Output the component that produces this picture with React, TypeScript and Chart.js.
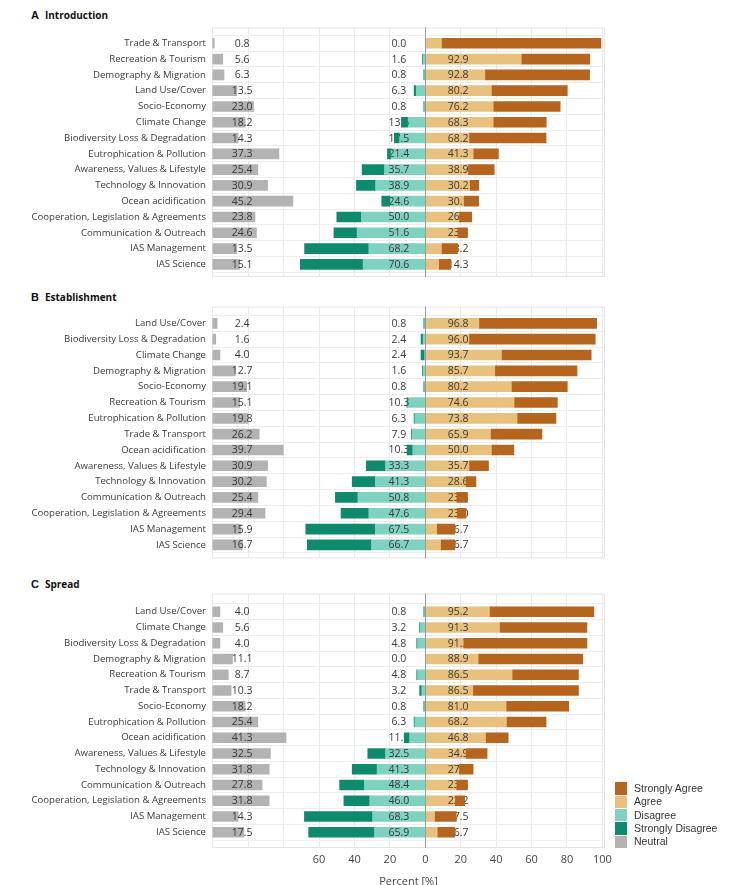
import React, { useEffect, useRef } from 'react';
import { Chart, registerables } from 'chart.js';

Chart.register(...registerables);

// ---------- DATA ----------
const categoriesA = [
  'Trade & Transport', 'Recreation & Tourism', 'Demography & Migration', 'Land Use/Cover',
  'Socio-Economy', 'Climate Change', 'Biodiversity Loss & Degradation', 'Eutrophication & Pollution',
  'Awareness, Values & Lifestyle', 'Technology & Innovation', 'Ocean acidification',
  'Cooperation, Legislation & Agreements', 'Communication & Outreach', 'IAS Management', 'IAS Science',
];
const neutralA = [0.8, 5.6, 6.3, 13.5, 23.0, 18.2, 14.3, 37.3, 25.4, 30.9, 45.2, 23.8, 24.6, 13.5, 15.1];
const disagreeTotalA = [0.0, 1.6, 0.8, 6.3, 0.8, 13.5, 17.5, 21.4, 35.7, 38.9, 24.6, 50.0, 51.6, 68.2, 70.6];
const stronglyDisagreeA = [0, 0, 0, 0.8, 0, 3.4, 2.6, 1.7, 12.2, 10.4, 4.5, 13.5, 12.7, 35.9, 35.1];
const agreeTotalA = [99.2, 92.9, 92.8, 80.2, 76.2, 68.3, 68.2, 41.3, 38.9, 30.2, 30.1, 26.2, 23.8, 18.2, 14.3];
const stronglyAgreeA = [89.7, 38.3, 58.8, 42.5, 37.5, 29.6, 43.2, 13.9, 14.5, 4.8, 8.1, 6.9, 5.4, 8.7, 6.4];

const categoriesB = [
  'Land Use/Cover', 'Biodiversity Loss & Degradation', 'Climate Change', 'Demography & Migration',
  'Socio-Economy', 'Recreation & Tourism', 'Eutrophication & Pollution', 'Trade & Transport',
  'Ocean acidification', 'Awareness, Values & Lifestyle', 'Technology & Innovation',
  'Communication & Outreach', 'Cooperation, Legislation & Agreements', 'IAS Management', 'IAS Science',
];
const neutralB = [2.4, 1.6, 4.0, 12.7, 19.1, 15.1, 19.8, 26.2, 39.7, 30.9, 30.2, 25.4, 29.4, 15.9, 16.7];
const disagreeTotalB = [0.8, 2.4, 2.4, 1.6, 0.8, 10.3, 6.3, 7.9, 10.3, 33.3, 41.3, 50.8, 47.6, 67.5, 66.7];
const stronglyDisagreeB = [0, 0.8, 1.6, 0, 0, 0, 0, 0, 2.8, 10.4, 12.7, 12.3, 15.3, 38.9, 35.9];
const agreeTotalB = [96.8, 96.0, 93.7, 85.7, 80.2, 74.6, 73.8, 65.9, 50.0, 35.7, 28.6, 23.8, 23.0, 16.7, 16.7];
const stronglyAgreeB = [66.2, 71.0, 50.3, 46.1, 31.2, 24.1, 21.6, 28.7, 12.3, 10.7, 5.5, 6.0, 5.0, 9.9, 7.7];

const categoriesC = [
  'Land Use/Cover', 'Climate Change', 'Biodiversity Loss & Degradation', 'Demography & Migration',
  'Recreation & Tourism', 'Trade & Transport', 'Socio-Economy', 'Eutrophication & Pollution',
  'Ocean acidification', 'Awareness, Values & Lifestyle', 'Technology & Innovation',
  'Communication & Outreach', 'Cooperation, Legislation & Agreements', 'IAS Management', 'IAS Science',
];
const neutralC = [4.0, 5.6, 4.0, 11.1, 8.7, 10.3, 18.2, 25.4, 41.3, 32.5, 31.8, 27.8, 31.8, 14.3, 17.5];
const disagreeTotalC = [0.8, 3.2, 4.8, 0.0, 4.8, 3.2, 0.8, 6.3, 11.9, 32.5, 41.3, 48.4, 46.0, 68.3, 65.9];
const stronglyDisagreeC = [0, 0, 0, 0, 0, 0.8, 0, 0, 2.6, 9.6, 13.7, 13.6, 14.2, 38.1, 36.8];
const agreeTotalC = [95.2, 91.3, 91.3, 88.9, 86.5, 86.5, 81.0, 68.2, 46.8, 34.9, 27.0, 23.8, 22.2, 17.5, 16.7];
const stronglyAgreeC = [58.6, 49.0, 69.5, 58.7, 37.1, 59.3, 35.0, 22.0, 12.4, 11.8, 7.7, 6.0, 5.2, 11.9, 9.6];

const xTickValues = [-120, -100, -80, -60, -40, -20, 0, 20, 40, 60, 80, 100];
const xLabeledTicks = [-60, -40, -20, 0, 20, 40, 60, 80, 100];
const legendLabels = ['Strongly Agree', 'Agree', 'Disagree', 'Strongly Disagree', 'Neutral'];

// ---------- STYLE ----------
const COL = {
  sa: '#b5651e',
  a: '#e8c17e',
  d: '#7fd2bf',
  sd: '#0e8a6e',
  n: '#b3b3b3',
};
const legendColors = [COL.sa, COL.a, COL.d, COL.sd, COL.n];
const X_MIN = -120.5;
const X_MAX = 101.5;
const NEUTRAL_BASE = -120;
const TEXT_X = { neutral: -103.5, disagree: -15, agree: 18.5 };
const FONT = '"Open Sans", "DejaVu Sans", sans-serif';
const PLOT_LEFT = 212;
const CANVAS_W = 620;
const PAD_RIGHT = 15;

type PanelProps = {
  cats: string[];
  neutral: number[];
  disTotal: number[];
  strDis: number[];
  agrTotal: number[];
  strAgr: number[];
  plotTop: number;
  plotBottom: number;
  yMin: number;
  yMax: number;
  showAxis: boolean;
};

function Panel(p: PanelProps) {
  const ref = useRef<HTMLCanvasElement | null>(null);
  const canvasTop = Math.round(p.plotTop) - 3;
  const padTop = p.plotTop - canvasTop;
  const axisH = p.showAxis ? 895 - p.plotBottom : 0;
  const canvasH = Math.ceil(p.plotBottom - canvasTop + axisH + (p.showAxis ? 0 : 3));
  const padBottom = canvasH - (p.plotBottom - canvasTop) - axisH;

  useEffect(() => {
    if (!ref.current) return;
    const idx = p.cats.map((_, i) => i);
    const mk = (f: (i: number) => [number, number]) => idx.map((i) => ({ x: f(i), y: i }));

    const textLayers: Record<string, { vals: number[]; x: number }> = {
      Neutral: { vals: p.neutral, x: TEXT_X.neutral },
      Disagree: { vals: p.disTotal, x: TEXT_X.disagree },
      Agree: { vals: p.agrTotal, x: TEXT_X.agree },
    };

    const deco = {
      id: 'deco',
      beforeDatasetsDraw(chart: any) {
        const { ctx, chartArea: a } = chart;
        ctx.save();
        ctx.strokeStyle = '#e4e4e4';
        ctx.lineWidth = 1;
        ctx.strokeRect(a.left + 0.5, a.top + 0.5, a.right - a.left - 1, a.bottom - a.top - 1);
        ctx.restore();
      },
      afterDatasetDraw(chart: any, args: any) {
        const ds = chart.data.datasets[args.index];
        const layer = textLayers[ds.label];
        if (!layer) return;
        const { ctx } = chart;
        const xs = chart.scales.x;
        const ys = chart.scales.y;
        ctx.save();
        ctx.font = `10.5px ${FONT}`;
        ctx.fillStyle = '#3a3a3a';
        ctx.textAlign = 'center';
        ctx.textBaseline = 'middle';
        layer.vals.forEach((v, i) => {
          ctx.fillText(v.toFixed(1), xs.getPixelForValue(layer.x), ys.getPixelForValue(i) + 0.5);
        });
        ctx.restore();
      },
      afterDatasetsDraw(chart: any) {
        const { ctx, chartArea: a } = chart;
        const x0 = Math.round(chart.scales.x.getPixelForValue(0)) + 0.5;
        ctx.save();
        ctx.strokeStyle = '#9a9a9a';
        ctx.lineWidth = 1;
        ctx.beginPath();
        ctx.moveTo(x0, a.top);
        ctx.lineTo(x0, a.bottom);
        ctx.stroke();
        ctx.restore();
      },
    };

    const common = { barThickness: 10, grouped: false, borderWidth: 0, borderSkipped: false };
    const chart = new Chart(ref.current, {
      type: 'bar',
      data: {
        datasets: [
          { ...common, label: 'Neutral', order: 5, backgroundColor: COL.n,
            data: mk((i) => [NEUTRAL_BASE, NEUTRAL_BASE + p.neutral[i]]) },
          { ...common, label: 'Disagree', order: 4, backgroundColor: COL.d,
            data: mk((i) => [-(p.disTotal[i] - p.strDis[i]), 0]) },
          { ...common, label: 'Agree', order: 3, backgroundColor: COL.a,
            data: mk((i) => [0, p.agrTotal[i] - p.strAgr[i]]) },
          { ...common, label: 'Strongly Disagree', order: 2, backgroundColor: COL.sd,
            data: mk((i) => [-p.disTotal[i], -(p.disTotal[i] - p.strDis[i])]) },
          { ...common, label: 'Strongly Agree', order: 1, backgroundColor: COL.sa,
            data: mk((i) => [p.agrTotal[i] - p.strAgr[i], p.agrTotal[i]]) },
        ] as any,
      },
      options: {
        indexAxis: 'y',
        responsive: false,
        animation: false,
        devicePixelRatio: 1,
        layout: { padding: { left: 0, right: PAD_RIGHT, top: padTop, bottom: padBottom } },
        plugins: { legend: { display: false }, tooltip: { enabled: false } },
        scales: {
          x: {
            type: 'linear',
            min: X_MIN,
            max: X_MAX,
            offset: false,
            bounds: 'data',
            afterBuildTicks: (s: any) => { s.ticks = xTickValues.map((v) => ({ value: v })); },
            afterFit: (s: any) => {
              s.height = axisH;
              s.paddingLeft = 0; s.paddingRight = 0; s.paddingTop = 0; s.paddingBottom = 0;
            },
            grid: { color: '#e9e9e9', drawTicks: false, lineWidth: 1 },
            border: { display: false },
            ticks: {
              display: p.showAxis,
              padding: 5,
              color: '#444',
              font: { family: FONT, size: 11 },
              autoSkip: false,
              maxRotation: 0,
              callback: (v: any) => (xLabeledTicks.includes(Number(v)) ? String(Math.abs(Number(v))) : ''),
            },
            title: {
              display: p.showAxis,
              text: 'Percent [%]',
              color: '#444',
              font: { family: FONT, size: 11 },
              padding: { top: 0, bottom: 6.7 },
            },
          },
          y: {
            type: 'linear',
            reverse: true,
            min: p.yMin,
            max: p.yMax,
            offset: false,
            bounds: 'data',
            grace: 0,
            afterDataLimits: (s: any) => { s.min = p.yMin; s.max = p.yMax; },
            afterBuildTicks: (s: any) => {
              s.ticks = idx.map((v) => ({ value: v }));
              s.min = p.yMin; s.max = p.yMax;
            },
            afterFit: (s: any) => {
              s.width = PLOT_LEFT;
              s.paddingLeft = 0; s.paddingRight = 0; s.paddingTop = 0; s.paddingBottom = 0;
            },
            grid: { color: '#ededed', drawTicks: false, offset: true },
            border: { display: false },
            ticks: {
              padding: 6,
              color: '#3a3a3a',
              font: { family: FONT, size: 9.6 },
              autoSkip: false,
              callback: (v: any) => p.cats[Number(v)] ?? '',
            },
          },
        },
      } as any,
      plugins: [deco],
    });
    return () => chart.destroy();
  }, []);

  return (
    <canvas
      ref={ref}
      width={CANVAS_W}
      height={canvasH}
      style={{ position: 'absolute', left: 0, top: canvasTop, width: CANVAS_W, height: canvasH }}
    />
  );
}

function PanelTitle({ letter, text, top }: { letter: string; text: string; top: number }) {
  return (
    <div style={{ position: 'absolute', left: 31, top, height: 16, lineHeight: '16px', whiteSpace: 'nowrap', color: '#111' }}>
      <span style={{ fontFamily: '"Liberation Sans", Arial, sans-serif', fontWeight: 700, fontSize: 11 }}>{letter}</span>
      <span style={{ fontFamily: FONT, fontWeight: 700, fontSize: 10, marginLeft: 6 }}>{text}</span>
    </div>
  );
}

export default function App() {
  return (
    <div style={{ position: 'absolute', left: 0, top: 0, width: 752, height: 885, overflow: 'hidden', background: '#fff' }}>
      <PanelTitle letter="A" text="Introduction" top={5.5} />
      <PanelTitle letter="B" text="Establishment" top={287.5} />
      <PanelTitle letter="C" text="Spread" top={575} />
      <Panel cats={categoriesA} neutral={neutralA} disTotal={disagreeTotalA} strDis={stronglyDisagreeA}
        agrTotal={agreeTotalA} strAgr={stronglyAgreeA} plotTop={27.5} plotBottom={277} yMin={-1.0} yMax={14.8} showAxis={false} />
      <Panel cats={categoriesB} neutral={neutralB} disTotal={disagreeTotalB} strDis={stronglyDisagreeB}
        agrTotal={agreeTotalB} strAgr={stronglyAgreeB} plotTop={306.7} plotBottom={558.4} yMin={-1.05} yMax={14.85} showAxis={false} />
      <Panel cats={categoriesC} neutral={neutralC} disTotal={disagreeTotalC} strDis={stronglyDisagreeC}
        agrTotal={agreeTotalC} strAgr={stronglyAgreeC} plotTop={593.6} plotBottom={848} yMin={-1.15} yMax={15.0} showAxis={true} />
      <div style={{ position: 'absolute', left: 615, top: 782 }}>
        {legendLabels.map((l, i) => (
          <div key={l} style={{ display: 'flex', alignItems: 'center', height: 13.3 }}>
            <div style={{ width: 12, height: 12.5, background: legendColors[i] }} />
            <span style={{ marginLeft: 7, fontFamily: '"Liberation Sans", Arial, sans-serif', fontSize: 10.5, color: '#333', lineHeight: '13px' }}>{l}</span>
          </div>
        ))}
      </div>
    </div>
  );
}
